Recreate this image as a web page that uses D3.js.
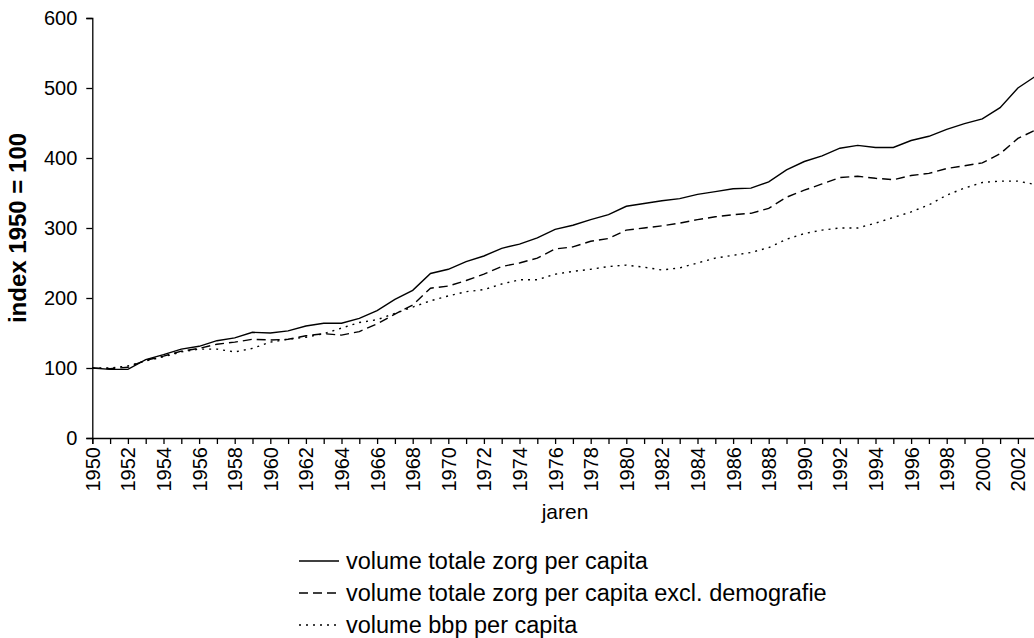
<!DOCTYPE html>
<html>
<head>
<meta charset="utf-8">
<script src="https://cdn.jsdelivr.net/npm/d3@7"></script>
<style>
  body { margin: 0; background: #fff; }
  svg { display: block; font-family: "Liberation Sans", Arial, sans-serif; }
</style>
</head>
<body>
<svg id="chart" width="1034" height="638"></svg>
<script>
const years = d3.range(1950, 2004);

// volume totale zorg per capita
const zorg = [100, 98, 98, 112, 119, 127, 131, 139, 143, 151,
	150, 153, 160, 164, 164, 171, 182, 198, 211, 235,
	241, 252, 260, 271, 277, 286, 298, 304, 312, 319,
	331, 335, 339, 342, 348, 352, 356, 357, 366, 383,
	395, 403, 414, 418, 415, 415, 425, 431, 441, 449,
	456, 472, 500, 517];

// volume totale zorg per capita excl. demografie
const zorgExcl = [100, 99, 101, 111, 117, 124, 128, 134, 137, 141,
	140, 141, 146, 149, 147, 152, 163, 177, 190, 214,
	217, 225, 234, 245, 250, 257, 270, 273, 281, 285,
	297, 300, 303, 307, 312, 316, 319, 321, 328, 344,
	354, 363, 372, 374, 371, 369, 375, 378, 385, 389,
	393, 406, 428, 440];

// volume bbp per capita
const bbp = [100, 100, 103, 110, 116, 123, 127, 127, 123, 128,
	137, 141, 144, 149, 157, 165, 169, 178, 187, 196,
	203, 209, 212, 220, 226, 226, 234, 238, 241, 245,
	247, 244, 240, 243, 250, 257, 261, 265, 272, 284,
	292, 297, 300, 300, 307, 315, 323, 333, 347, 357,
	365, 367, 367, 362];

const yTicks = [0, 100, 200, 300, 400, 500, 600];
const legendLabels = [
	'volume totale zorg per capita',
	'volume totale zorg per capita excl. demografie',
	'volume bbp per capita'
];

const svg = d3.select('#chart');

const x = d3.scaleLinear()
	.domain([1950, 2003])
	.range([92.3, 1035.7]);

const y = d3.scaleLinear()
	.domain([0, 600])
	.range([438, 18]);

const series = [
	{ name: legendLabels[0], values: zorg, dash: null },
	{ name: legendLabels[1], values: zorgExcl, dash: '9,5' },
	{ name: legendLabels[2], values: bbp, dash: '2,5' }
];

// lines
const line = d3.line()
	.x((d, i) => x(years[i]))
	.y(d => y(d));

svg.append('g')
	.selectAll('path')
	.data(series)
	.enter()
	.append('path')
	.attr('d', d => line(d.values))
	.attr('fill', 'none')
	.attr('stroke', '#000')
	.attr('stroke-width', 1.4)
	.attr('stroke-dasharray', d => d.dash);

// y axis
svg.append('g')
	.attr('transform', `translate(${x(1950)},0)`)
	.call(d3.axisLeft(y).tickValues(yTicks).tickSize(6).tickPadding(9));

// x axis, tick every year, label every second year
const xAxis = svg.append('g')
	.attr('transform', `translate(0,${y(0)})`)
	.call(d3.axisBottom(x)
		.tickValues(years)
		.tickSize(6)
		.tickFormat(d => (d % 2 === 0 ? d : '')));

xAxis.selectAll('text')
	.attr('transform', 'rotate(-90)')
	.attr('text-anchor', 'end')
	.attr('x', -9)
	.attr('y', 0)
	.attr('dy', '0.35em');

svg.selectAll('.domain, .tick line')
	.attr('stroke', '#000')
	.attr('stroke-width', 1.3);

svg.selectAll('.tick text')
	.attr('fill', '#000')
	.style('font-size', '20px')
	.style('font-family', '"Liberation Sans", Arial, sans-serif');

// axis titles
svg.append('text')
	.attr('transform', `translate(26,228) rotate(-90)`)
	.attr('text-anchor', 'middle')
	.style('font-size', '24px')
	.style('font-weight', 'bold')
	.text('index 1950 = 100');

svg.append('text')
	.attr('x', 565)
	.attr('y', 519)
	.attr('text-anchor', 'middle')
	.style('font-size', '21px')
	.text('jaren');

// legend
const legend = svg.append('g')
	.selectAll('g')
	.data(series)
	.enter()
	.append('g')
	.attr('transform', (d, i) => `translate(299,${561 + i * 32})`);

legend.append('line')
	.attr('x1', 0)
	.attr('x2', 40)
	.attr('stroke', '#000')
	.attr('stroke-width', 1.4)
	.attr('stroke-dasharray', d => d.dash);

legend.append('text')
	.attr('x', 47)
	.attr('dy', '0.35em')
	.style('font-size', '23.5px')
	.text(d => d.name);
</script>
</body>
</html>
